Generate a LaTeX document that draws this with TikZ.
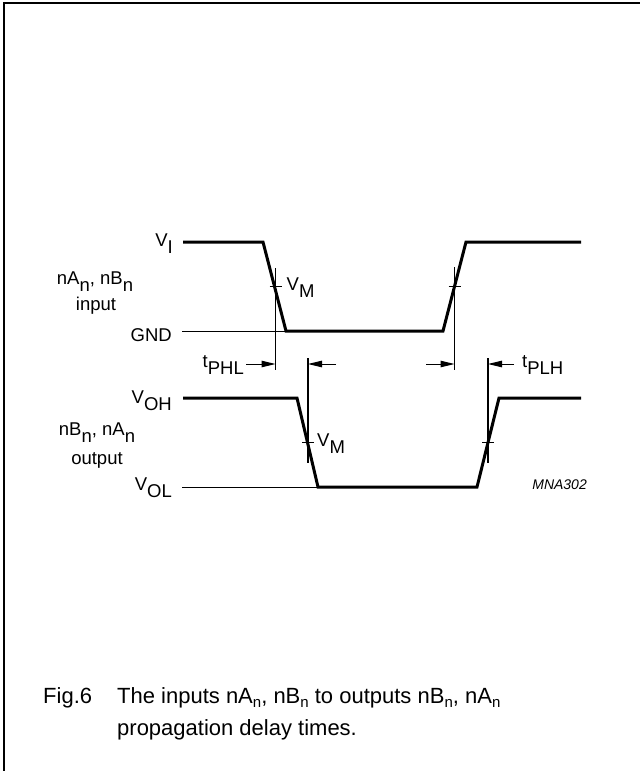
\documentclass[tikz,border=0pt]{standalone}
\usepackage{fontspec}
\setmainfont{Liberation Sans}
\usetikzlibrary{arrows.meta}
\newcommand{\lsub}[1]{\raisebox{-7.5bp}{#1}}
\newcommand{\csub}[1]{\raisebox{-4bp}{\fontsize{15bp}{15bp}\selectfont #1}}
\tikzset{
  wave/.style={line width=3bp, line join=miter},
  level/.style={line width=1bp},
  refline/.style={line width=1.1bp},
  tickmark/.style={line width=0.9bp},
  dimarrow/.style={line width=1bp, -{Triangle[length=14bp,width=6.5bp]}},
  lbl/.style={inner sep=0pt, font=\fontsize{18.5bp}{20bp}\selectfont},
  captext/.style={inner sep=0pt, font=\fontsize{22bp}{26bp}\selectfont},
}
\begin{document}
\begin{tikzpicture}[x=1bp,y=-1bp]
\useasboundingbox (0,0) rectangle (640,771);
% frame
\draw[line width=1.6bp] (4,771) -- (4,3) -- (640,3);

% input waveform points
\coordinate (iA) at (183,242);
\coordinate (iB) at (263,242);
\coordinate (iC) at (286,331);
\coordinate (iD) at (443,331);
\coordinate (iE) at (466,242);
\coordinate (iF) at (581,242);
\coordinate (iG) at (182,331);
% output waveform points
\coordinate (oA) at (183,398);
\coordinate (oB) at (297,398);
\coordinate (oC) at (318,487);
\coordinate (oD) at (477,487);
\coordinate (oE) at (499,398);
\coordinate (oF) at (581,398);
\coordinate (oG) at (182,487);

\draw[wave] (iA) -- (iB) -- (iC) -- (iD) -- (iE) -- (iF);
\draw[level] (iG) -- (iC);
\draw[wave] (oA) -- (oB) -- (oC) -- (oD) -- (oE) -- (oF);
\draw[level] (oG) -- (oC);

% reference verticals
\coordinate (v1t) at (275.5,268); \coordinate (v1b) at (275.5,370);
\coordinate (v2t) at (454.5,267); \coordinate (v2b) at (454.5,370);
\coordinate (v3t) at (308,358);   \coordinate (v3b) at (308,463);
\coordinate (v4t) at (488,358);   \coordinate (v4b) at (488,463);
\draw[refline] (v1t) -- (v1b);
\draw[refline] (v2t) -- (v2b);
\draw[refline] (v3t) -- (v3b);
\draw[refline] (v4t) -- (v4b);

% V_M ticks
\coordinate (t1a) at (269.5,286); \coordinate (t1b) at (281.5,286);
\coordinate (t2a) at (448.5,286.5); \coordinate (t2b) at (460.5,286.5);
\coordinate (t3a) at (302,442); \coordinate (t3b) at (314,442);
\coordinate (t4a) at (482,442); \coordinate (t4b) at (494,442);
\draw[tickmark] (t1a) -- (t1b);
\draw[tickmark] (t2a) -- (t2b);
\draw[tickmark] (t3a) -- (t3b);
\draw[tickmark] (t4a) -- (t4b);

% dimension arrows
\coordinate (a1s) at (246,364); \coordinate (a1e) at (275.5,364);
\coordinate (a2s) at (336,364); \coordinate (a2e) at (308,364);
\coordinate (a3s) at (426,364); \coordinate (a3e) at (454.5,364);
\coordinate (a4s) at (514,364); \coordinate (a4e) at (488,364);
\draw[dimarrow] (a1s) -- (a1e);
\draw[dimarrow] (a2s) -- (a2e);
\draw[dimarrow] (a3s) -- (a3e);
\draw[dimarrow] (a4s) -- (a4e);

% labels
\node[lbl, anchor=base east] (vi) at (173,246) {V\lsub{I}};
\node[lbl, anchor=base] (inname) at (95,284) {nA\lsub{n}, nB\lsub{n}};
\node[lbl, anchor=base] (inword) at (96,310) {input};
\node[lbl, anchor=base east] (gnd) at (172,341) {GND};
\node[lbl, anchor=base east] (voh) at (172,403) {V\lsub{OH}};
\node[lbl, anchor=base] (outname) at (97,435) {nB\lsub{n}, nA\lsub{n}};
\node[lbl, anchor=base] (outword) at (97,464) {output};
\node[lbl, anchor=base east] (vol) at (172,490) {V\lsub{OL}};
\node[lbl, anchor=base west] (vm1) at (286.5,290) {V\lsub{M}};
\node[lbl, anchor=base west] (vm2) at (317,446) {V\lsub{M}};
\node[lbl, anchor=base east] (tphl) at (244,367) {t\lsub{PHL}};
\node[lbl, anchor=base west] (tplh) at (522,367) {t\lsub{PLH}};
\node[inner sep=0pt, anchor=base east, font=\fontsize{14bp}{16bp}\selectfont\itshape] (code) at (587,489) {MNA302};

% caption
\node[captext, anchor=base west] (fig) at (43,703) {Fig.6};
\node[captext, anchor=base west] (capl1) at (117,703) {The inputs nA\csub{n}, nB\csub{n} to outputs nB\csub{n}, nA\csub{n}};
\node[captext, anchor=base west] (capl2) at (117,735) {propagation delay times.};
\end{tikzpicture}
\end{document}
